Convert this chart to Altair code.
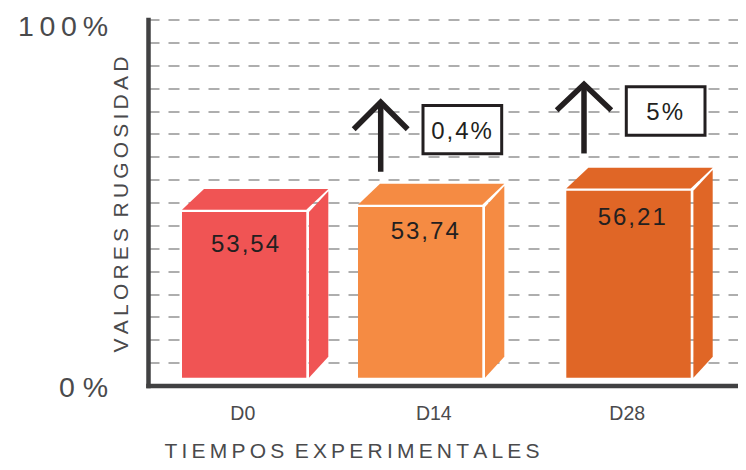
import altair as alt
import pandas as pd

THIN = "\u2009"
HAIR = "\u200a"
WORD = "\u2002"

def track(s, sp):
    return sp.join(s)

# ---- values
categories = ["D0", "D14", "D28"]
value_labels = ["53,54", "53,74", "56,21"]
colors = ["#F05454", "#F58B43", "#E06626"]
bar_left = [34.0, 210.0, 418.3]
bar_right = [158.3, 334.3, 542.7]
bar_top = [47.4, 48.8, 53.2]
bar_base = 2.15
depth_x = 22.0
depth_y = 5.7
gap_x = 2.7
gap_y = 0.6
label_x = [94.3, 285.3, 478.7]
value_label_x = [97.0, 276.7, 483.7]
value_label_y = [36.6, 39.9, 43.9]

arrow_x = [232.7, 436.0]
arrow_base = [58.4, 63.4]
arrow_apex = [77.4, 82.3]
arrow_tip = [70.0, 75.2]
arrow_half = [27.0, 27.3]

box_left = [275.0, 478.3]
box_right = [353.7, 557.0]
box_bottom = [63.3, 68.4]
box_top = [76.5, 81.6]
box_labels = ["0,4%", "5%"]
box_label_x = [313.5, 516.7]
box_label_y = [67.4, 72.5]

grid_values = [i * 6.25 for i in range(17)]

# ---- tables
front = pd.DataFrame({"cat": categories, "x": bar_left, "x2": bar_right,
                      "y": [bar_base] * 3, "y2": bar_top})

val_df = pd.DataFrame({"x": value_label_x, "y": value_label_y, "t": [track(v, HAIR) for v in value_labels]})
box_df = pd.DataFrame({"x": box_left, "x2": box_right, "y": box_bottom, "y2": box_top})
box_txt = pd.DataFrame({"x": box_label_x, "y": box_label_y, "t": [track(v, HAIR) for v in box_labels]})
shaft = pd.DataFrame({"x": arrow_x, "y": arrow_base, "y2": arrow_apex})
head_rows = []
for i, (x, a, t, h) in enumerate(zip(arrow_x, arrow_apex, arrow_tip, arrow_half)):
    head_rows += [{"a": i, "o": 0, "x": x - h, "y": t}, {"a": i, "o": 1, "x": x, "y": a}, {"a": i, "o": 2, "x": x + h, "y": t}]
head = pd.DataFrame(head_rows)

# ---- scales
GRAY = "#4A4A4C"
INK = "#231F20"
xs = alt.Scale(domain=[0, 590], nice=False, zero=False)
ys = alt.Scale(domain=[0, 100], nice=False, zero=False)

x_label_expr = "".join(f"datum.value=={p}?'{c}':" for p, c in zip(label_x, categories)) + "''"

x_axis = alt.Axis(
    values=label_x, tickCount=10, labelExpr=x_label_expr, grid=False, ticks=False,
    domainColor="#414142", domainWidth=4.5, domainCap="square",
    labelFont="Liberation Sans", labelFontSize=19.5, labelColor=GRAY, labelPadding=19,
    labelFlush=False, labelOverlap=False,
    title=track("TIEMPOS", THIN) + WORD + track("EXPERIMENTALES", THIN),
    titleFont="Liberation Sans", titleFontSize=21, titleFontWeight="normal", titleColor=GRAY,
    titleAnchor="start", titleAlign="center", titleBaseline="alphabetic", titleX=203.5, titleY=72,
)
y_axis = alt.Axis(
    values=grid_values, tickCount=20,
    labelExpr="datum.value==100?'" + track("100%", THIN) + "':(datum.value==0?'0 %':'')",
    grid=True, gridColor="#5E5E5E", gridWidth=1.1, gridDash=[11, 9], ticks=False,
    domainColor="#414142", domainWidth=4.5, domainCap="square",
    labelFont="Liberation Sans", labelFontSize=28.5, labelColor=GRAY, labelPadding=40.5,
    labelOffset=alt.expr("datum.value==100?6.5:1.5"), labelFlush=False, labelOverlap=False,
    title=track("VALORES", THIN) + WORD + track("RUGOSIDAD", THIN),
    titleFont="Liberation Sans", titleFontSize=21, titleFontWeight="normal", titleColor=GRAY,
    titleAngle=270, titleAlign="center", titleBaseline="alphabetic", titleX=-20.7, titleY=184.5,
)

color = alt.Color("cat:N", scale=alt.Scale(domain=categories, range=colors), legend=None)

base_layer = alt.Chart(front).mark_rect(clip=False).encode(
    x=alt.X("x:Q", scale=xs, axis=x_axis), x2="x2:Q",
    y=alt.Y("y:Q", scale=ys, axis=y_axis), y2="y2:Q",
    color=color,
)

def face_layers():
    out = []
    for c, col, l, r, t in zip(categories, colors, bar_left, bar_right, bar_top):
        low = t + gap_y
        up = low + depth_y
        top = pd.DataFrame({"x": [l, l + depth_x, r, r + depth_x],
                            "hi": [low, up, up, up], "lo": [low, low, low, up]})
        sl = r + gap_x
        side = pd.DataFrame({"x": [sl, r + depth_x],
                             "hi": [t, t + depth_y], "lo": [bar_base, bar_base + depth_y]})
        for d in (top, side):
            out.append(alt.Chart(d).mark_area(color=col, line=False, opacity=1).encode(
                x=alt.X("x:Q", scale=xs),
                y=alt.Y("hi:Q", scale=ys),
                y2=alt.Y2("lo:Q"),
            ))
    return out

val_layer = alt.Chart(val_df).mark_text(font="Liberation Sans", fontSize=24, color=INK, align="center", baseline="alphabetic").encode(
    x=alt.X("x:Q", scale=xs), y=alt.Y("y:Q", scale=ys), text="t:N")
box_layer = alt.Chart(box_df).mark_rect(fill="white", stroke=INK, strokeWidth=3).encode(
    x=alt.X("x:Q", scale=xs), x2="x2:Q", y=alt.Y("y:Q", scale=ys), y2="y2:Q")
box_text = alt.Chart(box_txt).mark_text(font="Liberation Sans", fontSize=24, color=INK, align="center", baseline="alphabetic").encode(
    x=alt.X("x:Q", scale=xs), y=alt.Y("y:Q", scale=ys), text="t:N")
shaft_layer = alt.Chart(shaft).mark_rule(color=INK, strokeWidth=5.5).encode(
    x=alt.X("x:Q", scale=xs), y=alt.Y("y:Q", scale=ys), y2="y2:Q")
head_layer = alt.Chart(head).mark_line(color=INK, strokeWidth=5.5, strokeJoin="miter", strokeCap="butt").encode(
    x=alt.X("x:Q", scale=xs), y=alt.Y("y:Q", scale=ys), detail="a:N", order="o:Q")

chart = alt.layer(base_layer, *face_layers(), val_layer, box_layer, box_text, shaft_layer, head_layer).properties(
    width=590, height=366, background="white",
    padding={"left": 140, "top": 11.5, "right": 0, "bottom": 76.5},
    autosize=alt.AutoSizeParams(type="none"),
).configure_view(stroke=None)

chart.save("out.html", embed_options={"renderer": "svg", "actions": False})
